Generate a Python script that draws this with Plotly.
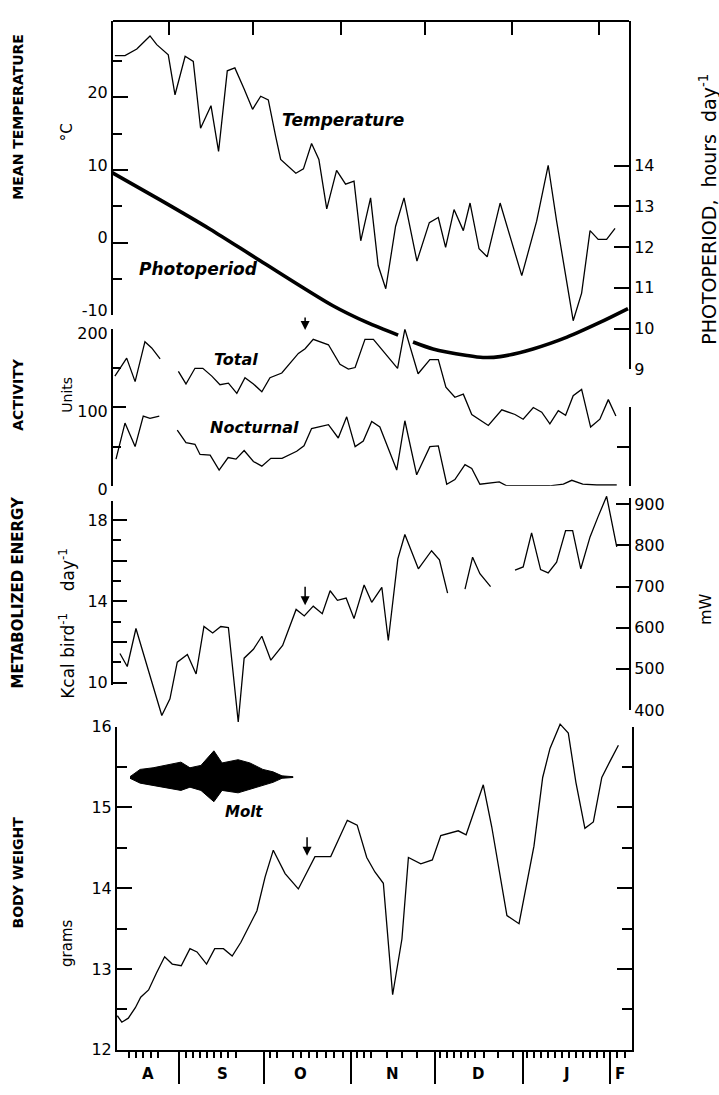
import plotly.graph_objects as go

W, H = 719, 1095

# ---------------- data (x = days after 31 July) ----------------
temp_day = [11.7, 15.3, 19.5, 24.2, 26.6, 30.7, 33.1, 36.7, 39.6, 42.2, 45.9, 48.6, 51.7, 54.4,
            57.7, 60.7, 63.6, 66.3, 68.9, 70.7, 76.1, 78.8, 81.7, 84.3, 87.1, 90.6, 93.8, 96.8,
            99.2, 102.7, 105.4, 108.1, 111.6, 114.6, 119.2, 123.6, 126.8, 129.4, 132.4, 135.7,
            138.1, 141.3, 144.2, 148.8, 156.5, 161.8, 165.9, 168.9, 174.8, 177.8, 180.8, 183.7,
            186.7, 189.7]
temp_c = [25.8, 25.8, 26.7, 28.5, 27.3, 25.9, 20.4, 25.7, 25.0, 15.8, 18.9, 12.6, 23.7, 24.1,
          21.2, 18.4, 20.2, 19.7, 14.7, 11.5, 9.6, 10.2, 13.7, 11.5, 4.7, 10.0, 8.1, 8.5,
          0.3, 6.2, -3.1, -6.3, 2.3, 6.2, -2.5, 2.8, 3.5, -0.6, 4.6, 1.7,
          5.5, -0.8, -1.9, 5.5, -4.5, 3.0, 10.7, 3.0, -10.7, -6.9, 1.7, 0.5,
          0.5, 2.0]

photo_day = [10.7, 27.8, 45.6, 63.3, 89.3, 101.4, 112.5, None, 117.8, 124.9, 137.0, 142.7,
             148.8, 160.5, 172.6, 184.3, 194.3]
photo_hours = [13.83, 13.16, 12.44, 11.67, 10.56, 10.15, 9.84, None, 9.67, 9.50, 9.34, 9.29,
               9.31, 9.50, 9.79, 10.15, 10.49]

total_day = [11.7, 15.9, 18.9, 22.4, 24.8, 27.8, None,
             34.3, 37.0, 40.2, 43.0, 46.2, 49.1, 52.1, 55.1, 58.0, 61.0, 64.0, 66.9, 71.1, 77.0,
             79.4, 82.3, 87.7, 91.8, 94.8, 97.2, 100.7, 103.7, 112.3, 114.9, 119.6, 123.8, 126.8,
             129.5, 132.7, 135.7, 138.7, 144.6, 149.4, 154.1, 157.0, 160.6, 163.6, 166.5, 169.5,
             172.1, 174.8, 177.8, 181.0, 184.3, 187.3, 190.0]
total_units = [140, 163, 133, 184, 176, 162, None,
               146, 130, 150, 150, 140, 129, 131, 118, 138, 130, 120, 138, 144, 169,
               175, 187, 180, 155, 149, 151, 187, 187, 150, 200, 143, 161, 161,
               126, 113, 117, 91, 77, 97, 91, 85, 100, 94, 79, 96,
               90, 115, 123, 75, 85, 110, 89]

noct_day = [12.1, 15.3, 18.9, 21.8, 24.2, 27.5, None,
            33.9, 37.0, 40.2, 42.0, 45.6, 48.8, 52.0, 54.8, 57.7, 61.0, 64.0, 67.2, 71.2, 76.4,
            79.0, 81.7, 87.7, 91.2, 94.2, 97.2, 100.1, 103.1, 106.0, 112.0, 114.9, 119.1, 123.8,
            126.8, 129.8, 132.7, 136.3, 138.7, 141.6, 145.2, 148.5, 151.1, 158.7, 166.5, 171.3,
            174.3, 178.2, 183.2, 190.3]
noct_units = [34, 80, 50, 89, 86, 89, None,
              71, 55, 53, 40, 39, 20, 36, 34, 45, 31, 25, 35, 35, 44,
              51, 73, 78, 61, 88, 50, 57, 82, 75, 20, 83, 14, 50,
              51, 2, 8, 27, 22, 2, 4, 5, 0, 0, 0, 2,
              7, 2, 1, 1]

energy_day = [13.5, 16.1, 19.2, 28.4, 31.3, 33.9, 37.5, 40.6, 43.4, 46.5, 49.4, 52.1, 55.6,
              57.7, 61.0, 64.0, 67.2, 71.4, 76.2, 79.1, 82.3, 85.5, 88.3, 90.9, 94.0, 96.8,
              100.4, 103.1, 106.7, 109.0, 112.4, 114.9, 119.7, 124.4, 127.2, 130.1, None,
              136.3, 139.0, 141.6, 145.4, None,
              154.1, 157.0, 160.0, 163.2, 165.9, 168.9, 172.1, 174.6, 177.5, 180.8, 183.7,
              186.7, 190.3]
energy_kcal = [11.43, 10.79, 12.66, 8.38, 9.2, 11.0, 11.38, 10.42, 12.76, 12.44, 12.76, 12.71, 8.06,
               11.2, 11.64, 12.28, 11.1, 11.83, 13.6, 13.28, 13.76, 13.39, 14.52, 14.05, 14.16, 13.15,
               14.8, 13.95, 14.69, 12.07, 16.09, 17.29, 15.6, 16.49, 16.04, 14.4, None,
               14.6, 16.17, 15.36, 14.72, None,
               15.53, 15.69, 17.37, 15.56, 15.4, 15.93, 17.48, 17.48, 15.6, 17.17, 18.18,
               19.17, 16.68]

weight_day = [9.0, 10.6, 12.9, 15.4, 17.3, 20.1, 22.9, 25.8, 28.5, 31.7, 34.8, 37.3, 40.7, 43.6,
              46.7, 49.8, 52.9, 55.5, 58.6, 61.5, 64.4, 68.6, 73.3, 79.2, 84.8, 90.7, 94.2,
              97.6, 100.5, 103.5, 106.8, 110.1, 112.4, 116.8, 120.9, 123.9, 130.1, 132.9, 139.0,
              142.0, 147.4, 151.7, 154.4, 157.0, 160.1, 162.7, 166.3, 169.2, 171.9, 175.1, 178.1,
              181.1, 184.0, 187.0]
weight_g = [12.42, 12.34, 12.39, 12.52, 12.65, 12.74, 12.95, 13.15, 13.06, 13.04, 13.25, 13.21,
            13.06, 13.25, 13.25, 13.16, 13.33, 13.51, 13.72, 14.14, 14.47, 14.18, 13.99, 14.39,
            14.39, 14.84, 14.78, 14.38, 14.2, 14.06, 12.68, 13.37, 14.38, 14.3, 14.35, 14.65,
            14.71, 14.66, 15.28, 14.76, 13.66, 13.56, 14.06, 14.52, 15.37, 15.73, 16.03, 15.92,
            15.31, 14.74, 14.82, 15.37, 15.57, 15.77]

molt_day = [13.5, 17.1, 21.7, 26.3, 31.6, 34.8, 38.7, 43.3, 46.2, 51.9, 56.1, 60.7, 64.3, 67.5, 71.4]
molt_upper = [15.38, 15.47, 15.49, 15.52, 15.56, 15.49, 15.52, 15.70, 15.55, 15.59, 15.55, 15.47,
              15.44, 15.39, 15.38]
molt_lower = [15.36, 15.30, 15.27, 15.24, 15.21, 15.25, 15.21, 15.07, 15.21, 15.18, 15.22, 15.27,
              15.31, 15.36, 15.37]

month_start = [31, 61, 92, 122, 153, 184]
month_labels = ["A", "S", "O", "N", "D", "J", "F"]
month_label_day = [19.9, 46.5, 73.9, 106.9, 137.1, 168.7, 187.6]
sample_ticks = [13.1, 15.6, 18.1, 21.0, 23.4,
                33.4, 35.9, 38.4, 40.9, 43.3, 45.8, 48.3, 51.2,
                63.2, 65.7, 71.4, 74.2, 77.1, 79.9, 83.1, 86.0, 89.2,
                94.1, 96.6, 99.1, 104.8, 110.1, 115.5,
                123.6, 126.1, 128.6, 131.1, 133.6, 136.1, 139.3, 144.2, 149.6,
                154.5, 157.0, 159.5, 162.0, 164.5, 167.0, 169.4, 171.9, 174.4, 176.9, 179.4, 181.9,
                186.5, 189.3]
marker_day_top = 79.4      # date marked by the small arrows
marker_day_bottom = 76.4

# ---------------- layout helpers ----------------
def ydom(top_px, bottom_px):
    return [1 - bottom_px / H, 1 - top_px / H]

def xdom(left_px, right_px):
    return [left_px / W, right_px / W]

FONT = "DejaVu Sans"
tickfont = dict(family=FONT, size=16, color="black")
axis_common = dict(showgrid=False, zeroline=False, linecolor="black", linewidth=2,
                   tickcolor="black", tickwidth=2, ticks="inside", tickfont=tickfont,
                   showline=True)

LINE = dict(color="black", width=1.3)

fig = go.Figure()
# temperature (hidden data axis y2 so dips below -10 are not clipped)
fig.add_trace(go.Scatter(x=temp_day, y=temp_c, mode="lines", line=LINE, xaxis="x", yaxis="y2"))
fig.add_trace(go.Scatter(x=photo_day, y=photo_hours, mode="lines",
                         line=dict(color="black", width=3.6, shape="spline", smoothing=0.8),
                         xaxis="x", yaxis="y3"))
fig.add_trace(go.Scatter(x=total_day, y=total_units, mode="lines", line=LINE, xaxis="x", yaxis="y4"))
fig.add_trace(go.Scatter(x=noct_day, y=noct_units, mode="lines", line=LINE, xaxis="x", yaxis="y4"))
fig.add_trace(go.Scatter(x=energy_day, y=energy_kcal, mode="lines", line=LINE, xaxis="x", yaxis="y7"))
fig.add_trace(go.Scatter(x=molt_day + molt_day[::-1], y=molt_upper + molt_lower[::-1], mode="lines",
                         fill="toself", fillcolor="black", line=dict(color="black", width=1),
                         xaxis="x2", yaxis="y10"))
fig.add_trace(go.Scatter(x=weight_day, y=weight_g, mode="lines", line=LINE, xaxis="x2", yaxis="y10"))
# empty traces so every visible axis gets its subplot
for ya, xa in [("y", "x"), ("y5", "x"), ("y6", "x"), ("y8", "x"), ("y9", "x2")]:
    fig.add_trace(go.Scatter(x=[None], y=[None], mode="lines", xaxis=xa, yaxis=ya))

PX_DAY_TOP, X0_TOP = 2.81, 82.0
PX_DAY_BOT, X0_BOT = 2.815, 92.0

T_PX, T0_PX = 7.42, 239.0
K_PX, K18_PX = 20.75, 522.0
MW_PX = 0.42
G_PX = 82.5

fig.update_layout(
    width=W, height=H, margin=dict(l=0, r=0, t=0, b=0),
    paper_bgcolor="white", plot_bgcolor="rgba(0,0,0,0)", showlegend=False,
    xaxis=dict(**axis_common, domain=xdom(113, 629),
               range=[(113 - X0_TOP) / PX_DAY_TOP, (629 - X0_TOP) / PX_DAY_TOP],
               anchor="free", position=1 - 12 / H, side="top",
               tickvals=month_start, ticklen=13, showticklabels=False),
    xaxis2=dict(**{**axis_common, "ticks": "outside"}, domain=xdom(117, 632),
                range=[(117 - X0_BOT) / PX_DAY_BOT, (632 - X0_BOT) / PX_DAY_BOT],
                anchor="y9", tickvals=month_start, ticklen=32, showticklabels=False,
                minor=dict(tickmode="array", tickvals=sample_ticks, ticks="outside",
                           ticklen=6, tickwidth=1.5, tickcolor="black")),
    # temperature
    yaxis=dict(**axis_common, domain=ydom(12, 313), anchor="x",
               range=[-10, -10 + (313 - 12) / T_PX],
               tickvals=[-10, 0, 10, 20], ticktext=["-10", "0", "10", "20"], ticklen=15,
               ticklabelshift=-5,
               minor=dict(tickmode="array", tickvals=[-5, 5, 15, 25], ticks="inside",
                          ticklen=9, tickwidth=2, tickcolor="black")),
    yaxis2=dict(visible=False, domain=ydom(12, 332), anchor="x",
                range=[(T0_PX - 332) / T_PX, (T0_PX - 12) / T_PX]),
    # photoperiod
    yaxis3=dict(**axis_common, domain=ydom(12, 368), anchor="x", side="right",
                range=[9, 9 + (368 - 12) / 41.6], tickvals=[9, 10, 11, 12, 13, 14], ticklen=15),
    # activity
    yaxis4=dict(**axis_common, domain=ydom(327, 487), anchor="x", range=[0, 200],
                tickvals=[0, 100, 200], ticklen=13, ticklabelshift=4,
                minor=dict(tickmode="array", tickvals=[50, 150], ticks="inside",
                           ticklen=8, tickwidth=2, tickcolor="black")),
    yaxis5=dict(**axis_common, domain=ydom(407, 487), anchor="x", side="right",
                range=[0, 100], tickvals=[50, 100], ticklen=12, showticklabels=False),
    # metabolized energy
    yaxis6=dict(**axis_common, domain=ydom(503, 690), anchor="x",
                range=[18 - (690 - K18_PX) / K_PX, 18 + (K18_PX - 503) / K_PX],
                tickvals=[10, 12, 14, 16, 18], ticktext=["10", "", "14", "", "18"], ticklen=14,
                minor=dict(tickmode="array", tickvals=[11, 13, 15, 17], ticks="inside",
                           ticklen=8, tickwidth=2, tickcolor="black")),
    yaxis7=dict(visible=False, domain=ydom(495, 736), anchor="x",
                range=[18 - (736 - K18_PX) / K_PX, 18 + (K18_PX - 495) / K_PX]),
    yaxis8=dict(**axis_common, domain=ydom(500, 716), anchor="x", side="right",
                range=[400, 900 + (506 - 500) / MW_PX],
                tickvals=[400, 500, 600, 700, 800, 900], ticklen=13),
    # body weight
    yaxis9=dict(**axis_common, domain=ydom(733, 1063), anchor="x2", range=[12, 16],
                tickvals=[12, 13, 14, 15, 16], ticklen=15, mirror="ticks",
                minor=dict(tickmode="array", tickvals=[12.5, 13.5, 14.5, 15.5], ticks="inside",
                           ticklen=10, tickwidth=2, tickcolor="black")),
    yaxis10=dict(visible=False, domain=ydom(720, 1063), anchor="x2",
                 range=[12, 16 + 13 / G_PX]),
)

ann = []
NB = "\u00a0"

def label(text, xp, yp, size=17, angle=0, bold=False, italic=False, **kw):
    if italic:
        text = f"<i>{text}</i>"
    if bold:
        text = f"<b>{text}</b>"
    ann.append(dict(text=text, x=xp / W, y=1 - yp / H, xref="paper", yref="paper",
                    showarrow=False, textangle=angle, xanchor="center", yanchor="middle",
                    font=dict(family=FONT, size=size, color="black"), **kw))

# series names
label("Temperature", 343, 113, size=17, bold=True, italic=True)
label("Photoperiod", 198, 266, size=17, bold=True, italic=True)
label("Total", 236, 358, size=16, bold=True, italic=True)
label("Nocturnal", 254, 427, size=16, bold=True, italic=True)
label("Molt", 244, 820, size=15, bold=True, italic=True)

# axis titles
label("MEAN TEMPERATURE", 18, 110, size=14, angle=-90, bold=True)
label("°C", 67, 126, size=15, angle=-90)
label("ACTIVITY", 18, 394, size=14, angle=-90, bold=True)
label("Units", 67, 394, size=14, angle=-90)
label("METABOLIZED ENERGY", 18, 596, size=15, angle=-90, bold=True)
label(f"Kcal{NB}bird<sup>-1</sup>{NB * 4}day<sup>-1</sup>", 67, 628, size=17, angle=-90)
label("BODY WEIGHT", 18, 882, size=14, angle=-90, bold=True)
label("grams", 67, 955, size=15, angle=-90)
label(f"PHOTOPERIOD,{NB * 2}hours{NB * 2}day<sup>-1</sup>", 708, 205, size=19, angle=-90)
label("mW", 705, 613, size=16, angle=-90)

# month letters under the bottom axis
for d, m in zip(month_label_day, month_labels):
    ann.append(dict(text=f"<b>{m}</b>", x=d, xref="x2", y=1 - 1088 / H, yref="paper",
                    showarrow=False, xanchor="center", yanchor="middle",
                    font=dict(family=FONT, size=15, color="black")))

# small arrows marking the same date in three panels
arrow = dict(showarrow=True, arrowhead=2, arrowsize=1.2, arrowwidth=1.5, arrowcolor="black",
             text="", ax=0)
ann.append(dict(x=marker_day_top, xref="x", y=199, yref="y4", ay=-14, **arrow))
ann.append(dict(x=marker_day_top, xref="x", y=13.81, yref="y7", ay=-20, **arrow))
ann.append(dict(x=marker_day_bottom, xref="x2", y=14.40, yref="y10", ay=-20, **arrow))

fig.update_layout(annotations=ann)
fig.write_html("out.html")
